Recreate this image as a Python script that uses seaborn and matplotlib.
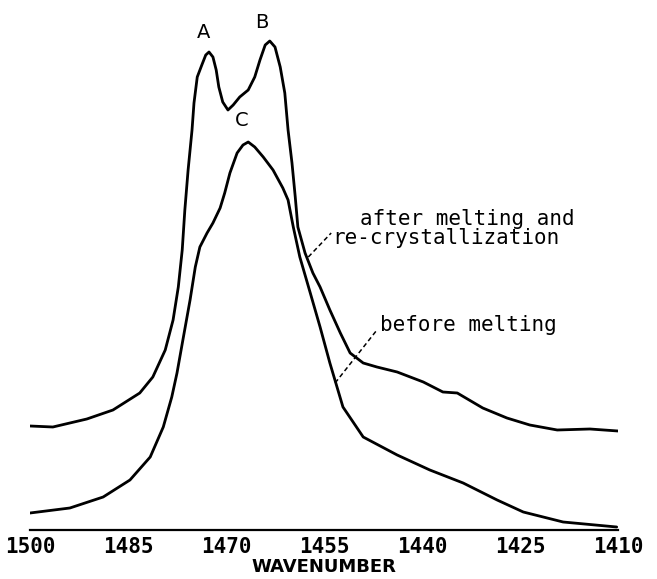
import pandas as pd
import matplotlib
matplotlib.use("Agg")
import matplotlib.pyplot as plt
import seaborn as sns

# spectrum after melting and re-crystallization (upper trace)
after_wn = [1500.0, 1496.5, 1491.3, 1487.3, 1483.2, 1481.2, 1479.3, 1478.1, 1477.3, 1476.7,
            1476.3, 1475.8, 1475.2, 1474.9, 1474.4, 1473.7, 1473.1, 1472.6, 1472.0, 1471.5,
            1471.1, 1470.5, 1469.7, 1468.9, 1467.9, 1466.6, 1465.6, 1464.8, 1464.0, 1463.3,
            1462.5, 1461.7, 1461.0, 1460.5, 1459.9, 1459.4, 1459.0, 1457.9, 1456.7, 1455.6,
            1454.1, 1452.5, 1451.0, 1449.0, 1446.9, 1443.8, 1439.8, 1436.8, 1434.6, 1430.7,
            1427.0, 1423.5, 1419.3, 1414.3, 1410.0]
after_abs = [104, 103, 111, 120, 137, 153, 180, 210, 243, 280,
             320, 360, 400, 427, 453, 465, 475, 478, 473, 460,
             443, 428, 420, 425, 433, 440, 453, 470, 485, 489,
             483, 463, 437, 400, 367, 333, 303, 277, 257, 243,
             220, 197, 177, 167, 163, 158, 148, 138, 137, 122,
             112, 105, 100, 101, 99]

# spectrum before melting (lower trace)
before_wn = [1500.0, 1493.9, 1488.8, 1484.7, 1481.6, 1479.6, 1478.3, 1477.5, 1476.6, 1475.5,
             1474.7, 1474.0, 1472.9, 1472.0, 1470.9, 1470.2, 1469.4, 1468.3, 1467.4, 1466.6,
             1465.6, 1464.3, 1462.8, 1461.3, 1460.5, 1459.7, 1458.7, 1457.1, 1455.6, 1454.1,
             1452.1, 1449.0, 1443.8, 1438.8, 1433.7, 1428.5, 1424.5, 1418.4, 1410.2]
before_abs = [17, 22, 33, 50, 73, 103, 133, 157, 190, 230,
              263, 283, 297, 307, 322, 337, 357, 377, 385, 388,
              383, 373, 360, 342, 330, 303, 273, 237, 203, 167,
              123, 93, 75, 60, 47, 30, 18, 8, 3]

ticks = [1500, 1485, 1470, 1455, 1440, 1425, 1410]

sns.set_style("white")
plt.rcParams["text.color"] = "black"
plt.rcParams["axes.labelcolor"] = "black"
plt.rcParams["xtick.color"] = "black"

fig = plt.figure(figsize=(6.57, 5.79), dpi=100)
ax = fig.add_axes([30 / 657, 49 / 579, 588 / 657, 530 / 579])

sns.lineplot(x=after_wn, y=after_abs, sort=False, color="black", linewidth=2.0, ax=ax,
             solid_joinstyle="round", solid_capstyle="round")
sns.lineplot(x=before_wn, y=before_abs, sort=False, color="black", linewidth=2.0, ax=ax,
             solid_joinstyle="round", solid_capstyle="round")

ax.set_xlim(1500, 1410)
ax.set_ylim(0, 530)
ax.set_yticks([])
ax.set_xticks(ticks)
ax.set_xticklabels([str(t) for t in ticks], fontfamily="DejaVu Sans Mono",
                   fontweight="bold", fontsize=15)
ax.tick_params(axis="x", direction="out", length=4, width=1.6, pad=1)
ax.set_xlabel("WAVENUMBER", fontfamily="DejaVu Sans", fontweight="bold",
              fontsize=13, labelpad=1)

for side in ["top", "left", "right"]:
    ax.spines[side].set_visible(False)
ax.spines["bottom"].set_linewidth(1.6)
ax.spines["bottom"].set_color("black")

# peak labels
ax.text(1473.5, 498, "A", fontsize=14, ha="center", va="center", fontfamily="DejaVu Sans")
ax.text(1464.5, 508, "B", fontsize=14, ha="center", va="center", fontfamily="DejaVu Sans")
ax.text(1467.6, 410, "C", fontsize=14, ha="center", va="center", fontfamily="DejaVu Sans")

# leaders and trace labels
ax.plot([1457.4, 1453.9], [273, 297], color="black", linestyle=(0, (3, 2)), linewidth=1.1)
ax.plot([1453.3, 1446.9], [147, 200], color="black", linestyle=(0, (3, 2)), linewidth=1.1)
ax.text(1449.5, 311, "after melting and", fontsize=15, ha="left", va="center",
        fontfamily="DejaVu Sans Mono", clip_on=False)
ax.text(1453.8, 292, "re-crystallization", fontsize=15, ha="left", va="center",
        fontfamily="DejaVu Sans Mono", clip_on=False)
ax.text(1446.4, 205, "before melting", fontsize=15, ha="left", va="center",
        fontfamily="DejaVu Sans Mono", clip_on=False)

plt.savefig("out.png", dpi=100)
